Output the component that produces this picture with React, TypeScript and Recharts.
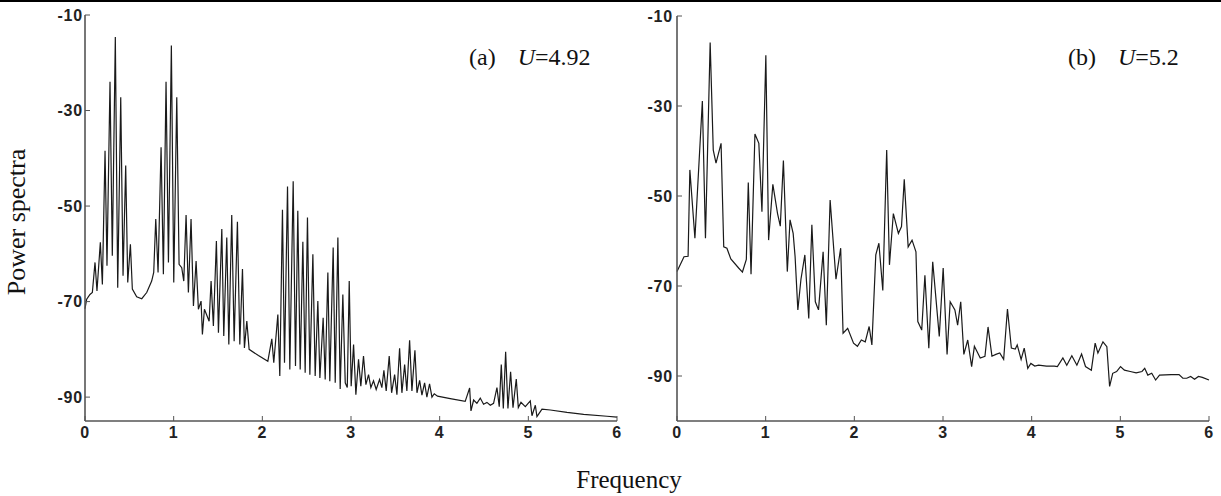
import React from "react";
import { LineChart, Line, XAxis, YAxis } from "recharts";

// (a) U=4.92
const freqA: number[] = [
  0, 0.019, 0.056, 0.083, 0.113, 0.135, 0.173, 0.196, 0.226, 0.248, 0.282, 0.308, 0.342, 0.369, 0.403,
  0.429, 0.459, 0.482, 0.512, 0.534, 0.583, 0.64, 0.696, 0.752, 0.775, 0.798, 0.824, 0.858, 0.884, 0.914,
  0.941, 0.974, 1.001, 1.035, 1.061, 1.091, 1.114, 1.14, 1.166, 1.196, 1.223, 1.253, 1.279, 1.309, 1.324,
  1.347, 1.377, 1.4, 1.422, 1.448, 1.482, 1.505, 1.543, 1.565, 1.599, 1.622, 1.655, 1.682, 1.719, 1.746,
  1.776, 1.798, 1.825, 1.851, 1.956, 2.062, 2.107, 2.129, 2.175, 2.197, 2.227, 2.25, 2.284, 2.31, 2.348,
  2.374, 2.4, 2.427, 2.457, 2.483, 2.509, 2.536, 2.57, 2.596, 2.626, 2.649, 2.686, 2.709, 2.739, 2.761,
  2.799, 2.822, 2.852, 2.878, 2.908, 2.935, 2.958, 2.98, 3.002, 3.029, 3.055, 3.085, 3.111, 3.141, 3.168,
  3.198, 3.224, 3.254, 3.284, 3.322, 3.348, 3.371, 3.397, 3.431, 3.458, 3.492, 3.518, 3.548, 3.574, 3.605,
  3.63, 3.661, 3.687, 3.721, 3.744, 3.774, 3.8, 3.83, 3.856, 3.886, 3.913, 3.939, 3.976, 4.119, 4.288,
  4.338, 4.353, 4.383, 4.42, 4.458, 4.495, 4.533, 4.571, 4.608, 4.646, 4.672, 4.695, 4.718, 4.744, 4.77,
  4.8, 4.827, 4.864, 4.887, 4.917, 4.966, 5.022, 5.041, 5.079, 5.097, 5.154, 5.248, 5.436, 5.624, 5.887,
  6.0,
];
const powerA: number[] = [
  -71.5, -69.5, -68.5, -68.1, -61.8, -67.8, -57.6, -66.4, -38.4, -62.5, -24.0, -60.4, -14.6, -67.1, -27.2,
  -64.6, -41.5, -66.0, -58.0, -67.4, -69.0, -69.4, -68.1, -65.7, -63.9, -52.7, -63.9, -37.7, -64.3, -24.0,
  -61.8, -16.4, -66.0, -27.2, -62.2, -62.9, -65.7, -51.9, -68.1, -52.7, -70.9, -61.5, -71.6, -69.9, -76.9,
  -71.6, -73.0, -74.1, -65.7, -75.1, -57.3, -76.5, -54.8, -77.2, -56.6, -79.0, -51.9, -78.3, -53.3, -79.0,
  -63.2, -79.7, -74.1, -80.0, -81.3, -82.5, -77.8, -82.8, -72.7, -85.6, -50.8, -82.8, -45.9, -84.2, -44.8,
  -83.5, -51.0, -84.2, -57.5, -84.9, -52.4, -85.3, -60.1, -85.6, -69.9, -86.0, -73.4, -86.3, -63.9, -86.7,
  -58.7, -87.0, -56.6, -88.3, -68.5, -87.0, -88.0, -65.7, -87.7, -79.0, -89.5, -82.1, -87.7, -81.4, -87.4,
  -85.3, -88.0, -86.6, -88.4, -86.3, -88.0, -84.4, -88.7, -81.4, -89.1, -85.3, -89.5, -79.8, -89.1, -83.2,
  -88.7, -78.1, -88.7, -80.2, -89.1, -86.5, -89.6, -87.0, -90.0, -87.2, -90.0, -89.3, -89.8, -90.3, -90.9,
  -88.1, -92.9, -90.6, -91.3, -90.2, -91.5, -91.1, -91.7, -91.3, -88.0, -92.0, -83.2, -92.4, -80.5, -92.4,
  -84.7, -92.2, -86.2, -92.2, -91.1, -92.0, -90.8, -93.9, -91.7, -94.1, -92.5, -92.7, -93.2, -93.6, -94.0,
  -94.2,
];

// (b) U=5.2
const freqB: number[] = [
  0, 0.079, 0.125, 0.145, 0.202, 0.286, 0.321, 0.374, 0.409, 0.44, 0.497, 0.527, 0.563, 0.607, 0.695,
  0.738, 0.782, 0.804, 0.835, 0.879, 0.923, 0.958, 1.002, 1.033, 1.081, 1.134, 1.165, 1.2, 1.244, 1.275,
  1.31, 1.332, 1.363, 1.398, 1.442, 1.486, 1.521, 1.56, 1.596, 1.648, 1.684, 1.727, 1.793, 1.846, 1.873,
  1.925, 1.991, 2.035, 2.079, 2.123, 2.167, 2.198, 2.242, 2.277, 2.321, 2.365, 2.396, 2.44, 2.497, 2.532,
  2.563, 2.607, 2.651, 2.695, 2.716, 2.76, 2.796, 2.84, 2.884, 2.958, 3.002, 3.046, 3.081, 3.134, 3.165,
  3.2, 3.235, 3.279, 3.323, 3.354, 3.42, 3.473, 3.508, 3.552, 3.596, 3.64, 3.684, 3.727, 3.771, 3.815,
  3.837, 3.881, 3.916, 3.956, 3.991, 4.035, 4.079, 4.167, 4.255, 4.29, 4.352, 4.396, 4.453, 4.51, 4.563,
  4.607, 4.673, 4.716, 4.747, 4.804, 4.848, 4.879, 4.914, 4.958, 5.002, 5.046, 5.112, 5.178, 5.244, 5.275,
  5.31, 5.354, 5.398, 5.442, 5.574, 5.662, 5.705, 5.749, 5.793, 5.837, 5.881, 5.925, 6.0,
];
const powerB: number[] = [
  -66.8, -63.5, -63.4, -44.2, -59.4, -28.9, -59.4, -15.9, -39.8, -42.7, -38.3, -61.3, -61.6, -64.0, -66.0,
  -66.9, -64.1, -47.0, -67.4, -36.2, -38.3, -53.5, -18.7, -59.8, -47.4, -53.9, -56.7, -42.1, -66.8, -55.3,
  -58.3, -63.5, -75.3, -68.5, -63.1, -77.2, -56.4, -73.5, -75.3, -62.4, -78.7, -50.9, -68.5, -61.6, -80.5,
  -79.4, -82.7, -83.4, -82.0, -82.4, -79.0, -83.1, -63.1, -60.5, -71.0, -39.8, -65.3, -53.9, -58.3, -56.8,
  -46.3, -61.3, -59.8, -62.4, -77.9, -79.8, -67.6, -83.8, -64.6, -81.2, -66.0, -85.2, -73.5, -75.3, -78.7,
  -73.5, -85.2, -82.0, -87.9, -83.4, -86.0, -85.6, -79.1, -85.6, -85.2, -84.9, -86.3, -75.1, -83.8, -84.0,
  -83.1, -86.3, -83.8, -88.3, -87.2, -87.8, -87.6, -87.8, -87.8, -87.9, -86.0, -87.6, -85.5, -87.6, -85.1,
  -87.9, -88.7, -82.7, -84.9, -82.4, -83.5, -92.3, -89.4, -89.0, -87.9, -88.7, -89.0, -89.3, -89.0, -88.3,
  -89.8, -89.4, -90.9, -89.8, -89.7, -89.7, -90.5, -90.5, -90.1, -90.7, -90.1, -90.3, -90.9,
];

const xTicks: number[] = [0, 1, 2, 3, 4, 5, 6];
const yTicks: number[] = [-10, -30, -50, -70, -90];

const zip = (f: number[], p: number[]) => f.map((x, i) => ({ f: x, p: p[i] }));

const tickFont = {
  fontFamily: "Liberation Sans, Arial, sans-serif",
  fontSize: 16,
  fontWeight: 700,
  letterSpacing: 0.8,
  fill: "#222",
};

interface PanelProps {
  data: { f: number; p: number }[];
  yDomain: [number, number];
  width: number;
  yAxisWidth: number;
  top: number;
  right: number;
  labelGap: number;
}

const Panel: React.FC<PanelProps> = ({ data, yDomain, width, yAxisWidth, top, right, labelGap }) => (
  <LineChart width={width} height={460} data={data} margin={{ top, right, bottom: 9, left: 0 }}>
    <XAxis
      xAxisId="b"
      dataKey="f"
      type="number"
      domain={[0, 6]}
      ticks={xTicks}
      interval={0}
      height={30}
      tickSize={-5}
      tickMargin={11}
      tick={tickFont}
      axisLine={{ stroke: "#555", strokeWidth: 1.6 }}
      tickLine={{ stroke: "#555" }}
    />
    <XAxis
      xAxisId="t"
      orientation="top"
      dataKey="f"
      type="number"
      domain={[0, 6]}
      ticks={xTicks}
      interval={0}
      height={0}
      tickSize={-5}
      tickFormatter={() => ""}
      axisLine={{ stroke: "#888" }}
      tickLine={{ stroke: "#888" }}
    />
    <YAxis
      yAxisId="l"
      type="number"
      domain={yDomain}
      ticks={yTicks}
      interval={0}
      width={yAxisWidth}
      tickSize={-5}
      tickMargin={labelGap}
      tick={tickFont}
      axisLine={{ stroke: "#555", strokeWidth: 1.6 }}
      tickLine={{ stroke: "#555" }}
      allowDataOverflow
    />
    <YAxis
      yAxisId="r"
      orientation="right"
      type="number"
      domain={yDomain}
      ticks={yTicks}
      interval={0}
      width={0}
      tickSize={-5}
      tickFormatter={() => ""}
      axisLine={{ stroke: "#888" }}
      tickLine={{ stroke: "#888" }}
    />
    <Line
      xAxisId="b"
      yAxisId="l"
      type="linear"
      dataKey="p"
      stroke="#1a1a1a"
      strokeWidth={1.2}
      dot={false}
      isAnimationActive={false}
    />
  </LineChart>
);

const serif = "Liberation Serif, Times New Roman, serif";

export default function App() {
  return (
    <div style={{ position: "absolute", left: 0, top: 0, width: 1221, height: 496, background: "#fff", overflow: "hidden" }}>
      <div style={{ position: "absolute", left: 0, top: 0, width: 1221, height: 2, background: "#000" }} />
      <div style={{ position: "absolute", left: 0, top: 0 }}>
        <Panel data={zip(freqA, powerA)} yDomain={[-95, -10]} width={640} yAxisWidth={85} top={15} right={23} labelGap={7} />
      </div>
      <div style={{ position: "absolute", left: 610, top: 0 }}>
        <Panel data={zip(freqB, powerB)} yDomain={[-100, -10]} width={611} yAxisWidth={67} top={16} right={12} labelGap={9} />
      </div>
      <svg width={1221} height={496} style={{ position: "absolute", left: 0, top: 0, pointerEvents: "none" }}>
        <text x={469} y={65} fontFamily={serif} fontSize={24} fill="#111">
          (a)
          <tspan dx={22} fontStyle="italic">U</tspan>
          <tspan>=4.92</tspan>
        </text>
        <text x={1068} y={65} fontFamily={serif} fontSize={24} fill="#111">
          (b)
          <tspan dx={22} fontStyle="italic">U</tspan>
          <tspan>=5.2</tspan>
        </text>
        <text transform="translate(25,222) rotate(-90)" textAnchor="middle" fontFamily={serif} fontSize={26} fill="#111">
          Power spectra
        </text>
        <text x={629} y={488} textAnchor="middle" fontFamily={serif} fontSize={25} fill="#111">
          Frequency
        </text>
      </svg>
    </div>
  );
}
